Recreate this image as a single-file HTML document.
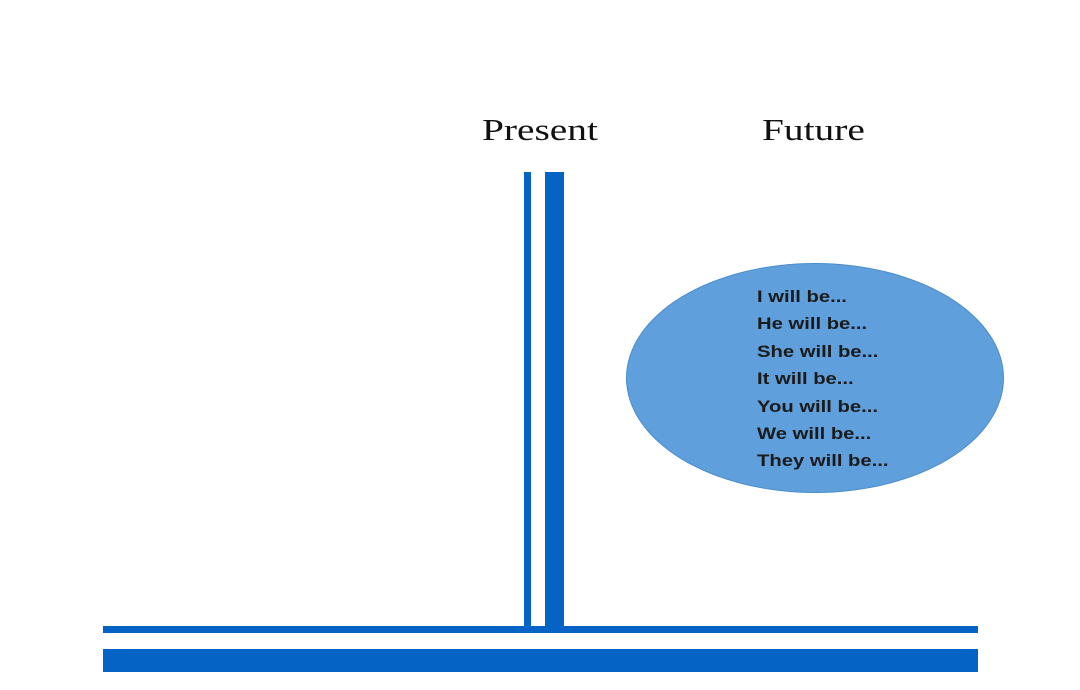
<!DOCTYPE html>
<html><head><meta charset="utf-8"><style>
body{margin:0;background:#fff;width:1080px;height:690px;overflow:hidden;position:relative;font-family:"Liberation Sans",sans-serif}
.b{position:absolute;background:#0563c6}
.t{position:absolute;font-family:"Liberation Serif",serif;font-size:31px;color:#111;transform:scaleX(1.27);transform-origin:0 0}
#ell{position:absolute;left:626px;top:263px;width:378px;height:230px;border-radius:50%;background:#5f9fdb;border:1px solid #4a8ccc;box-sizing:border-box}
#txt{position:absolute;left:757px;top:283px;font-weight:bold;font-size:17px;line-height:27.4px;color:#1a1a1a;transform:scaleX(1.19);transform-origin:0 0;white-space:nowrap}
</style></head><body>
<div class="t" style="left:482px;top:112px">Present</div>
<div class="t" style="left:762px;top:112px">Future</div>
<div class="b" style="left:524px;top:172px;width:7px;height:456px"></div>
<div class="b" style="left:545px;top:172px;width:19px;height:456px"></div>
<div class="b" style="left:103px;top:626px;width:875px;height:7px"></div>
<div class="b" style="left:103px;top:649px;width:875px;height:23px"></div>
<div id="ell"></div>
<div id="txt">I will be...<br>He will be...<br>She will be...<br>It will be...<br>You will be...<br>We will be...<br>They will be...</div>
</body></html>
